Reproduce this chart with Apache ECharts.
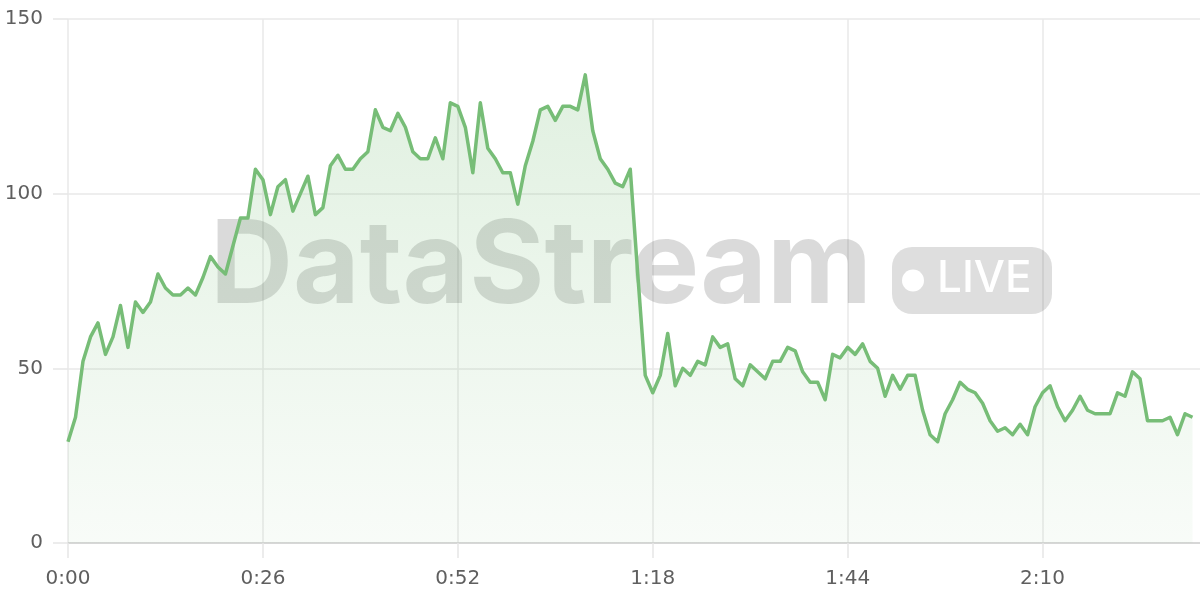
<!DOCTYPE html>
<html>
<head>
<meta charset="utf-8">
<script src="https://cdn.jsdelivr.net/npm/echarts@6/dist/echarts.min.js"></script>
<style>
  html, body { margin: 0; padding: 0; background: #ffffff; }
  #chart { width: 1200px; height: 600px; }
</style>
</head>
<body>
<div id="chart"></div>
<script>
// Sampled once per second, starting at 0:00
const values = [
  29,36,52,59,63,54,59,68,56,69,
  66,69,77,73,71,71,73,71,76,82,
  79,77,85,93,93,107,104,94,102,104,
  95,100,105,94,96,108,111,107,107,110,
  112,124,119,118,123,119,112,110,110,116,
  110,126,125,119,106,126,113,110,106,106,
  97,108,115,124,125,121,125,125,124,134,
  118,110,107,103,102,107,77,48,43,48,
  60,45,50,48,52,51,59,56,57,47,
  45,51,49,47,52,52,56,55,49,46,
  46,41,54,53,56,54,57,52,50,42,
  48,44,48,48,38,31,29,37,41,46,
  44,43,40,35,32,33,31,34,31,39,
  43,45,39,35,38,42,38,37,37,37,
  43,42,49,47,35,35,35,36,31,37,36
];
const xTickSeconds = [0, 26, 52, 78, 104, 130];
const xTickLabels = ["0:00", "0:26", "0:52", "1:18", "1:44", "2:10"];
const yTickLabels = ["0", "50", "100", "150"];
const watermarkText = "DataStream";
const badgeText = "LIVE";

const seriesData = values.map((v, i) => [i, v]);

const chart = echarts.init(document.getElementById('chart'), null, { renderer: 'canvas' });
const labelFont = '"DejaVu Sans", Verdana, sans-serif';

chart.setOption({
  animation: false,
  backgroundColor: '#ffffff',
  grid: { left: 68, right: 0, top: 19, bottom: 57, containLabel: false },
  xAxis: {
    type: 'value',
    min: 0,
    max: 151,
    interval: 26,
    axisLine: { show: true, lineStyle: { color: '#cfcfcf', width: 1.5 } },
    axisTick: { show: true, length: 15, customValues: xTickSeconds, lineStyle: { color: '#e6e6e6', width: 1.5 } },
    splitLine: { show: true, lineStyle: { color: '#e9e9e9', width: 1.5 } },
    axisLabel: {
      margin: 26,
      color: '#5f5f5f',
      fontSize: 20,
      fontFamily: labelFont,
      customValues: xTickSeconds,
      formatter: function (v) {
        const k = xTickSeconds.indexOf(Math.round(v));
        return k >= 0 ? xTickLabels[k] : '';
      }
    }
  },
  yAxis: {
    type: 'value',
    min: 0,
    max: 150,
    interval: 50,
    axisLine: { show: false },
    axisTick: { show: true, length: 15, lineStyle: { color: '#e6e6e6', width: 1.5 } },
    splitLine: { show: true, lineStyle: { color: '#e9e9e9', width: 1.5 } },
    axisLabel: {
      margin: 25,
      color: '#5f5f5f',
      fontSize: 20,
      fontFamily: labelFont,
      formatter: function (v) { return yTickLabels[Math.round(v / 50)] || ''; }
    }
  },
  graphic: [
    {
      type: 'text',
      z: 1,
      left: 210,
      top: 211,
      style: {
        text: watermarkText,
        fill: 'rgba(0,0,0,0.145)',
        font: 'bold 115px Inter, "Liberation Sans", Arial, sans-serif'
      }
    },
    {
      type: 'rect',
      z: 1,
      shape: { x: 892, y: 247, width: 160, height: 67, r: 20 },
      style: { fill: 'rgba(0,0,0,0.13)' }
    },
    {
      type: 'circle',
      z: 1,
      shape: { cx: 913, cy: 280.5, r: 11 },
      style: { fill: '#ffffff' }
    },
    {
      type: 'text',
      z: 1,
      left: 937,
      top: 257,
      style: {
        text: badgeText,
        fill: '#ffffff',
        font: '500 44px Inter, "Liberation Sans", Arial, sans-serif'
      }
    }
  ],
  series: [
    {
      type: 'line',
      data: seriesData,
      showSymbol: false,
      symbol: 'none',
      smooth: false,
      z: 3,
      lineStyle: { color: '#77bd77', width: 3.5, join: 'round' },
      areaStyle: {
        color: new echarts.graphic.LinearGradient(0, 0, 0, 1, [
          { offset: 0, color: 'rgba(120,190,120,0.32)' },
          { offset: 1, color: 'rgba(120,190,120,0.07)' }
        ])
      }
    }
  ]
});
</script>
</body>
</html>
